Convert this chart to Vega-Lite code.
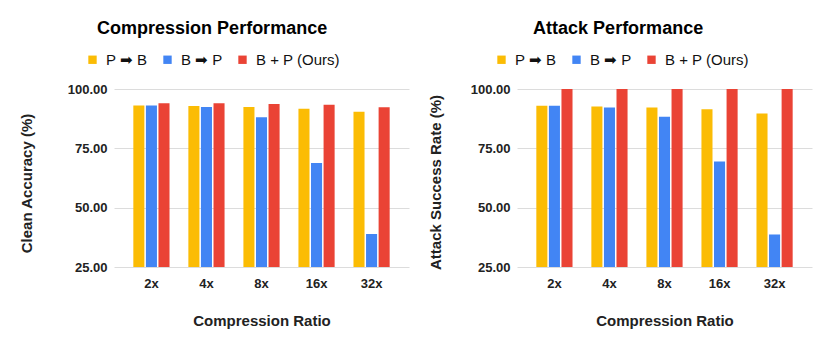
{
  "$schema": "https://vega.github.io/schema/vega-lite/v6.json",
  "background": "white",
  "padding": {"left": 19, "top": 20, "right": 5, "bottom": 5},
  "spacing": 19,
  "datasets": {
    "rows": [
      {"panel": "clean", "ratio": "2x", "method": "P ➡ B", "value": 93.1},
      {"panel": "clean", "ratio": "2x", "method": "B ➡ P", "value": 93.1},
      {"panel": "clean", "ratio": "2x", "method": "B + P (Ours)", "value": 94.0},
      {"panel": "clean", "ratio": "4x", "method": "P ➡ B", "value": 92.8},
      {"panel": "clean", "ratio": "4x", "method": "B ➡ P", "value": 92.4},
      {"panel": "clean", "ratio": "4x", "method": "B + P (Ours)", "value": 94.0},
      {"panel": "clean", "ratio": "8x", "method": "P ➡ B", "value": 92.4},
      {"panel": "clean", "ratio": "8x", "method": "B ➡ P", "value": 88.1},
      {"panel": "clean", "ratio": "8x", "method": "B + P (Ours)", "value": 93.7},
      {"panel": "clean", "ratio": "16x", "method": "P ➡ B", "value": 91.7},
      {"panel": "clean", "ratio": "16x", "method": "B ➡ P", "value": 68.8},
      {"panel": "clean", "ratio": "16x", "method": "B + P (Ours)", "value": 93.4},
      {"panel": "clean", "ratio": "32x", "method": "P ➡ B", "value": 90.4},
      {"panel": "clean", "ratio": "32x", "method": "B ➡ P", "value": 38.9},
      {"panel": "clean", "ratio": "32x", "method": "B + P (Ours)", "value": 92.3},
      {"panel": "asr", "ratio": "2x", "method": "P ➡ B", "value": 92.9},
      {"panel": "asr", "ratio": "2x", "method": "B ➡ P", "value": 92.9},
      {"panel": "asr", "ratio": "2x", "method": "B + P (Ours)", "value": 100},
      {"panel": "asr", "ratio": "4x", "method": "P ➡ B", "value": 92.6},
      {"panel": "asr", "ratio": "4x", "method": "B ➡ P", "value": 92.2},
      {"panel": "asr", "ratio": "4x", "method": "B + P (Ours)", "value": 100},
      {"panel": "asr", "ratio": "8x", "method": "P ➡ B", "value": 92.2},
      {"panel": "asr", "ratio": "8x", "method": "B ➡ P", "value": 88.3},
      {"panel": "asr", "ratio": "8x", "method": "B + P (Ours)", "value": 100},
      {"panel": "asr", "ratio": "16x", "method": "P ➡ B", "value": 91.5},
      {"panel": "asr", "ratio": "16x", "method": "B ➡ P", "value": 69.4},
      {"panel": "asr", "ratio": "16x", "method": "B + P (Ours)", "value": 100},
      {"panel": "asr", "ratio": "32x", "method": "P ➡ B", "value": 89.7},
      {"panel": "asr", "ratio": "32x", "method": "B ➡ P", "value": 38.7},
      {"panel": "asr", "ratio": "32x", "method": "B + P (Ours)", "value": 100}
    ]
  },
  "config": {
    "font": "Liberation Sans",
    "view": {"stroke": null},
    "title": {"fontSize": 18, "fontWeight": "bold", "color": "#000", "anchor": "middle", "frame": "bounds", "offset": 14, "dx": -2},
    "axis": {
      "labelFont": "Liberation Sans", "labelFontSize": 13, "labelFontWeight": "bold", "labelColor": "#222",
      "titleFont": "Liberation Sans", "titleFontSize": 15, "titleFontWeight": "bold", "titleColor": "#222",
      "gridColor": "#dcdcdc", "ticks": false, "domain": false
    },
    "legend": {
      "labelFont": "Liberation Sans", "labelFontSize": 15, "labelColor": "#111",
      "symbolType": "square", "symbolSize": 70, "symbolStrokeWidth": 0, "labelOffset": 6, "columnPadding": 12
    }
  },
  "hconcat": [
    {
      "title": "Compression Performance",
      "width": 295, "height": 178,
      "data": {"name": "rows"},
      "transform": [{"filter": "datum.panel === 'clean'"}],
      "mark": {"type": "bar"},
      "encoding": {
        "x": {"field": "ratio", "type": "nominal", "sort": ["2x", "4x", "8x", "16x", "32x"],
              "scale": {"paddingInner": 0, "paddingOuter": 0.18},
              "axis": {"labelAngle": 0, "labelPadding": 10, "titlePadding": 23, "grid": false}, "title": "Compression Ratio"},
        "xOffset": {"field": "method", "type": "nominal", "sort": ["P ➡ B", "B ➡ P", "B + P (Ours)"],
                    "scale": {"paddingInner": 0.12, "paddingOuter": 0.75}},
        "y": {"field": "value", "type": "quantitative", "scale": {"domain": [25, 100], "zero": false, "nice": false},
              "axis": {"values": [25, 50, 75, 100], "format": ".2f", "labelPadding": 7, "titlePadding": 33, "titleY": 94}, "title": "Clean Accuracy (%)"},
        "y2": {"datum": 25},
        "color": {"field": "method", "type": "nominal", "sort": ["P ➡ B", "B ➡ P", "B + P (Ours)"],
                  "scale": {"domain": ["P ➡ B", "B ➡ P", "B + P (Ours)"], "range": ["#FBBC04", "#4285F4", "#EA4335"]},
                  "legend": {"title": null, "orient": "none", "direction": "horizontal", "legendX": -29, "legendY": -37}}
      }
    },
    {
      "title": "Attack Performance",
      "width": 295, "height": 178,
      "data": {"name": "rows"},
      "transform": [{"filter": "datum.panel === 'asr'"}],
      "mark": {"type": "bar"},
      "encoding": {
        "x": {"field": "ratio", "type": "nominal", "sort": ["2x", "4x", "8x", "16x", "32x"],
              "scale": {"paddingInner": 0, "paddingOuter": 0.18},
              "axis": {"labelAngle": 0, "labelPadding": 10, "titlePadding": 23, "grid": false}, "title": "Compression Ratio"},
        "xOffset": {"field": "method", "type": "nominal", "sort": ["P ➡ B", "B ➡ P", "B + P (Ours)"],
                    "scale": {"paddingInner": 0.12, "paddingOuter": 0.75}},
        "y": {"field": "value", "type": "quantitative", "scale": {"domain": [25, 100], "zero": false, "nice": false},
              "axis": {"values": [25, 50, 75, 100], "format": ".2f", "labelPadding": 7, "titlePadding": 27, "titleY": 93}, "title": "Attack Success Rate (%)"},
        "y2": {"datum": 25},
        "color": {"field": "method", "type": "nominal", "sort": ["P ➡ B", "B ➡ P", "B + P (Ours)"],
                  "scale": {"domain": ["P ➡ B", "B ➡ P", "B + P (Ours)"], "range": ["#FBBC04", "#4285F4", "#EA4335"]},
                  "legend": {"title": null, "orient": "none", "direction": "horizontal", "legendX": -23, "legendY": -37}}
      }
    }
  ],
  "resolve": {"legend": {"color": "independent"}, "scale": {"color": "independent"}}
}
